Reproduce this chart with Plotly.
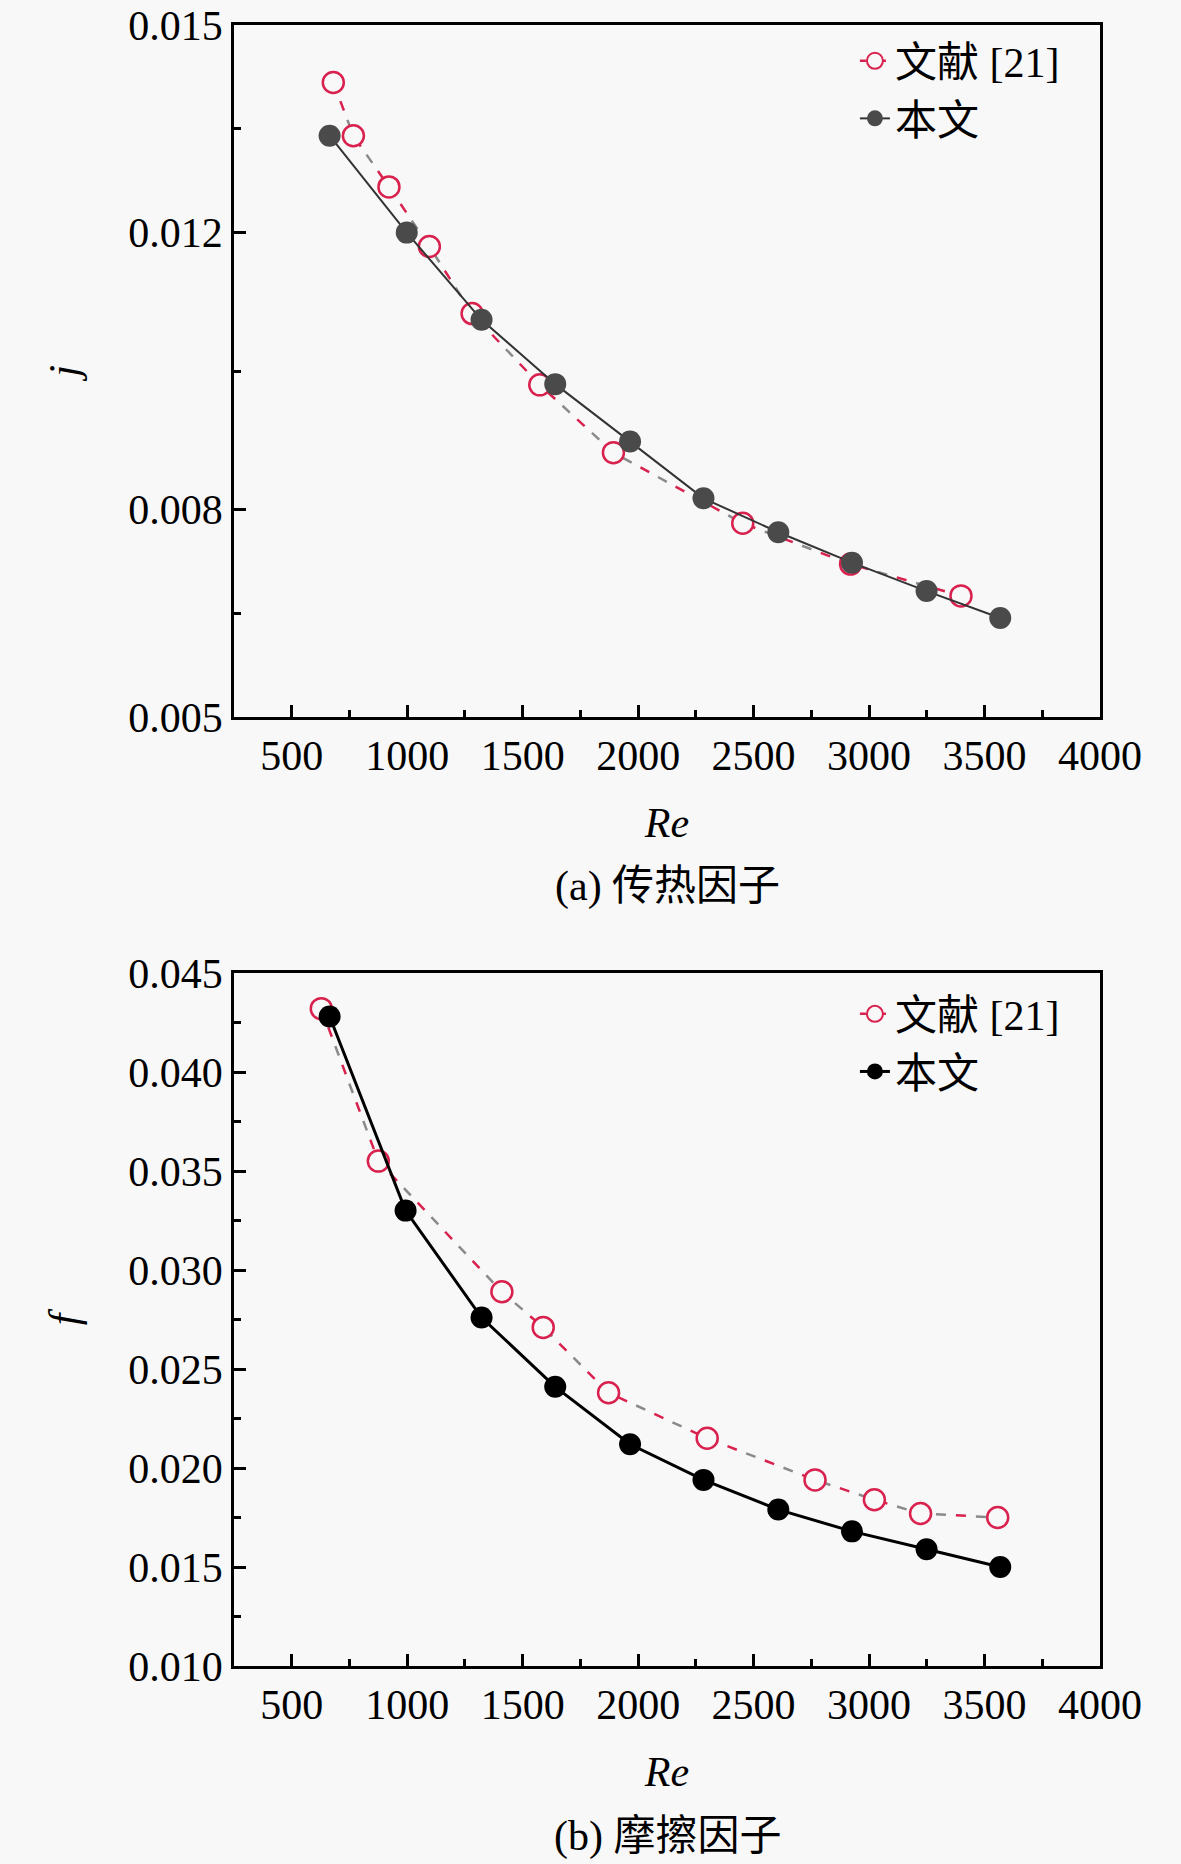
import plotly.graph_objects as go

# ---- data ----
re_ref_j = [680, 767, 921, 1096, 1281, 1574, 1893, 2453, 2920, 3398]
j_ref = [0.01417, 0.01340, 0.01266, 0.01180, 0.01083, 0.00980, 0.00882, 0.00780, 0.00721, 0.00675]
re_this_j = [664, 998, 1322, 1641, 1965, 2283, 2607, 2926, 3249, 3568]
j_this = [0.01340, 0.01200, 0.01074, 0.00981, 0.00898, 0.00816, 0.00767, 0.00723, 0.00682, 0.00643]

re_ref_f = [628, 875, 1410, 1589, 1872, 2299, 2766, 3023, 3223, 3557]
f_ref = [0.0432, 0.0355, 0.0289, 0.0271, 0.0238, 0.0215, 0.0194, 0.0184, 0.0177, 0.0175]
re_this_f = [664, 993, 1322, 1641, 1965, 2283, 2607, 2926, 3249, 3568]
f_this = [0.0428, 0.0330, 0.0276, 0.0241, 0.0212, 0.0194, 0.0179, 0.0168, 0.0159, 0.0150]

name_ref = "文献 [21]"
name_this = "本文"
j_ticks = [0.005, 0.008, 0.012, 0.015]
j_minor = [0.0065, 0.010, 0.0135]
caption_a = "(a) 传热因子"
caption_b = "(b) 摩擦因子"

# ---- style ----
FONT = "Liberation Serif, Times New Roman, Noto Sans CJK SC, serif"
BG = "#f8f8f8"
RED = "#d9214e"
GRAY_DASH = "#8a8a8a"
FS = 42

fig = go.Figure()


def add_ref(x, y, xa, ya, leg):
    # grey dashes of the two-coloured dashed line
    fig.add_trace(go.Scatter(x=x, y=y, xaxis=xa, yaxis=ya, mode="lines",
                             line=dict(color=GRAY_DASH, width=2.5, dash="10px,30px"),
                             showlegend=False, hoverinfo="skip"))
    # red dashes
    fig.add_trace(go.Scatter(x=x, y=y, xaxis=xa, yaxis=ya, mode="lines",
                             line=dict(color=RED, width=2.5, dash="0px,20px,10px,10px"),
                             showlegend=False, hoverinfo="skip"))
    # open circles
    fig.add_trace(go.Scatter(x=x, y=y, xaxis=xa, yaxis=ya, mode="markers",
                             marker=dict(symbol="circle", size=21, color=BG,
                                         line=dict(color=RED, width=2.5)),
                             name=name_ref, legend=leg, showlegend=False))
    # legend entry
    fig.add_trace(go.Scatter(x=[None], y=[None], xaxis=xa, yaxis=ya, mode="lines+markers",
                             line=dict(color=RED, width=2.5, dash="6px,4px"),
                             marker=dict(symbol="circle", size=16, color=BG,
                                         line=dict(color=RED, width=2)),
                             name=name_ref, legend=leg))


def add_this(x, y, xa, ya, leg, col, lcol, lw):
    fig.add_trace(go.Scatter(x=x, y=y, xaxis=xa, yaxis=ya, mode="lines+markers",
                             line=dict(color=lcol, width=lw),
                             marker=dict(symbol="circle", size=22, color=col),
                             name=name_this, legend=leg))


add_ref(re_ref_j, j_ref, "x", "y", "legend")
add_this(re_this_j, j_this, "x", "y", "legend", "#4a4a4a", "#333333", 2)
add_ref(re_ref_f, f_ref, "x2", "y2", "legend2")
add_this(re_this_f, f_this, "x2", "y2", "legend2", "#000000", "#000000", 3)

axis_common = dict(showline=True, linecolor="black", linewidth=2.5, mirror=True,
                   ticks="inside", ticklen=12, tickwidth=2.5, tickcolor="black",
                   showgrid=False, zeroline=False, automargin=False,
                   tickfont=dict(family=FONT, size=FS, color="black"))

xa_common = dict(axis_common, range=[250, 4000], tickvals=list(range(500, 4001, 500)),
                 minor=dict(tickvals=list(range(750, 4000, 500)), ticks="inside",
                            ticklen=7, tickwidth=2.5, tickcolor="black"),
                 title=dict(text="<i>Re</i>", font=dict(family=FONT, size=FS, color="black"),
                            standoff=30))

leg_font = dict(family=FONT, size=FS, color="black")

fig.update_layout(
    width=1181, height=1864,
    paper_bgcolor=BG, plot_bgcolor=BG,
    margin=dict(l=234, r=81, t=25, b=198, autoexpand=False),
    font=dict(family=FONT, size=FS, color="black"),
    xaxis=dict(xa_common, domain=[0, 1], anchor="y"),
    yaxis=dict(axis_common, domain=[0.5783, 1], anchor="x", range=[0.005, 0.015],
               tickvals=j_ticks, ticktext=[f"{v:.3f}" for v in j_ticks],
               minor=dict(tickvals=j_minor, ticks="inside", ticklen=7, tickwidth=2.5,
                          tickcolor="black"),
               title=dict(text="<i>j</i>", font=dict(family=FONT, size=FS, color="black"),
                          standoff=37)),
    xaxis2=dict(xa_common, domain=[0, 1], anchor="y2"),
    yaxis2=dict(axis_common, domain=[0, 0.4223], anchor="x2", range=[0.010, 0.045],
                tick0=0.010, dtick=0.005, tickformat=".3f",
                minor=dict(dtick=0.0025, tick0=0.010, ticks="inside", ticklen=7,
                           tickwidth=2.5, tickcolor="black"),
                title=dict(text="<i>f</i>", font=dict(family=FONT, size=FS, color="black"),
                           standoff=37)),
    legend=dict(x=0.717, y=0.9988, xanchor="left", yanchor="top", bgcolor="rgba(0,0,0,0)",
                font=leg_font, tracegroupgap=0),
    legend2=dict(x=0.717, y=0.418, xanchor="left", yanchor="top", bgcolor="rgba(0,0,0,0)",
                 font=leg_font, tracegroupgap=0),
    annotations=[
        dict(text=caption_a, xref="paper", yref="paper", x=0.5, y=0.4753,
             xanchor="center", yanchor="middle", showarrow=False,
             font=dict(family=FONT, size=FS, color="black")),
        dict(text=caption_b, xref="paper", yref="paper", x=0.5, y=-0.1042,
             xanchor="center", yanchor="middle", showarrow=False,
             font=dict(family=FONT, size=FS, color="black")),
    ],
)

fig.write_html(
    "out.html",
    config={"displayModeBar": False},
    post_script="document.body.style.margin='0';document.body.style.background='#f8f8f8';",
)
